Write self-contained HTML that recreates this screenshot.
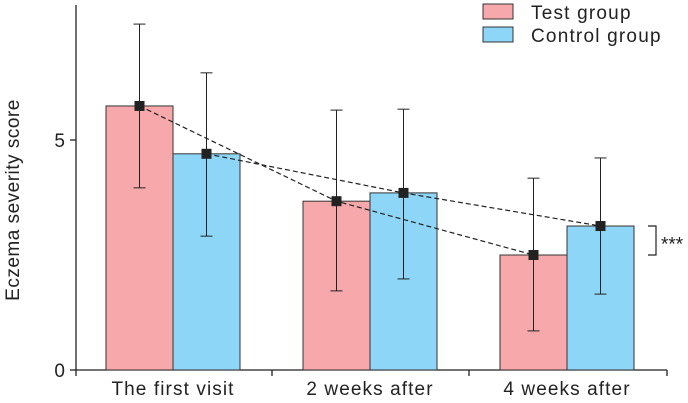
<!DOCTYPE html>
<html><head><meta charset="utf-8"><style>
html,body{margin:0;padding:0;background:#fff;}
svg{display:block;font-family:"Liberation Sans",Arial,sans-serif;}
</style></head><body>
<svg id="chart" width="688" height="403"></svg>
<script>
const categories = ["The first visit", "2 weeks after", "4 weeks after"];
const testMeans = [5.74, 3.67, 2.50];
const controlMeans = [4.70, 3.85, 3.13];
const testHigh = [7.52, 5.65, 4.17];
const testLow = [3.96, 1.72, 0.85];
const controlHigh = [6.46, 5.67, 4.61];
const controlLow = [2.91, 1.98, 1.65];
const yTicks = [0, 5];

const NS = "http://www.w3.org/2000/svg";
const svg = document.getElementById("chart");
const y0 = 370, pxPerUnit = 46;
const yScale = v => y0 - v * pxPerUnit;
const groupStart = i => 106 + i * 197;
const barW = 67;
function mk(tag, attrs, parent) {
  const e = document.createElementNS(NS, tag);
  for (const k in attrs) e.setAttribute(k, attrs[k]);
  (parent || svg).appendChild(e);
  return e;
}
const ax = mk("line", {x1:76, y1:5, x2:76, y2:370, stroke:"#222", "stroke-width":1.3});


const bx = mk("line", {x1:76, y1:370, x2:667, y2:370, stroke:"#222", "stroke-width":1.3});


[76, 272, 469, 667].forEach(xx => mk("line", {x1:xx, y1:370, x2:xx, y2:376, stroke:"#222", "stroke-width":1.3}));
yTicks.forEach(t => {
  const yy = yScale(t);
  mk("line", {x1:70, y1:yy, x2:76, y2:yy, stroke:"#222", "stroke-width":1.3});
  const tx = mk("text", {x:65, y:yy+7, "text-anchor":"end", "font-size":19, fill:"#222"});
  tx.textContent = t;
  
  
});
const yl = mk("text", {x:0, y:0, transform:"translate(19,200) rotate(-90)", "text-anchor":"middle", "font-size":19, "letter-spacing":0.5, fill:"#222"});
yl.textContent = "Eczema severity score";



const testPts = [], ctrlPts = [];
categories.forEach((c, i) => {
  const gx = groupStart(i);
  [[testMeans, testHigh, testLow, "#f7a8ab", gx, testPts, "test-bar"],
   [controlMeans, controlHigh, controlLow, "#8dd6f7", gx + barW, ctrlPts, "control-bar"]].forEach(s => {
    const [m, hi, lo, col, x, pts, nm] = s;
    const r = mk("rect", {x:x, y:yScale(m[i]), width:barW, height:yScale(0)-yScale(m[i]), fill:col, stroke:"#333", "stroke-width":1});
    
    
    const cx = x + barW / 2;
    pts.push([cx, yScale(m[i])]);
    mk("line", {x1:cx, y1:yScale(hi[i]), x2:cx, y2:yScale(lo[i]), stroke:"#222", "stroke-width":1});
    mk("line", {x1:cx-6, y1:yScale(hi[i]), x2:cx+6, y2:yScale(hi[i]), stroke:"#222", "stroke-width":1});
    mk("line", {x1:cx-6, y1:yScale(lo[i]), x2:cx+6, y2:yScale(lo[i]), stroke:"#222", "stroke-width":1});
  });
  const lb = mk("text", {x:gx + barW, y:395, "text-anchor":"middle", "font-size":19, "letter-spacing":1.1, fill:"#222"});
  lb.textContent = c;
  
  
});
[[testPts, "test-trend-line"], [ctrlPts, "control-trend-line"]].forEach(([pts, nm]) => {
  const pl = mk("polyline", {points:pts.map(p => p.join(",")).join(" "), fill:"none", stroke:"#222", "stroke-width":1.2, "stroke-dasharray":"5,3"});
  
  
  pts.forEach(p => {
    const mrk = mk("rect", {x:p[0]-5, y:p[1]-5, width:10, height:10, fill:"#222"});
    
    
  });
});
const lastT = yScale(testMeans[2]), lastC = yScale(controlMeans[2]);
const br = mk("polyline", {points:`648,${lastC} 656,${lastC} 656,${lastT} 648,${lastT}`, fill:"none", stroke:"#222", "stroke-width":1.2});


const st = mk("text", {x:661, y:(lastT+lastC)/2+10, "font-size":19, fill:"#222"});
st.textContent = "***";


[["Test group", "#f7a8ab", 4], ["Control group", "#8dd6f7", 27]].forEach(([t, col, yy]) => {
  const g = mk("g", {});
  
  
  mk("rect", {x:483, y:yy, width:30, height:15, fill:col, stroke:"#333", "stroke-width":1}, g);
  const tx = mk("text", {x:531, y:yy+15, "font-size":19, "letter-spacing":1.2, fill:"#222"}, g);
  tx.textContent = t;
});
</script>
</body></html>
